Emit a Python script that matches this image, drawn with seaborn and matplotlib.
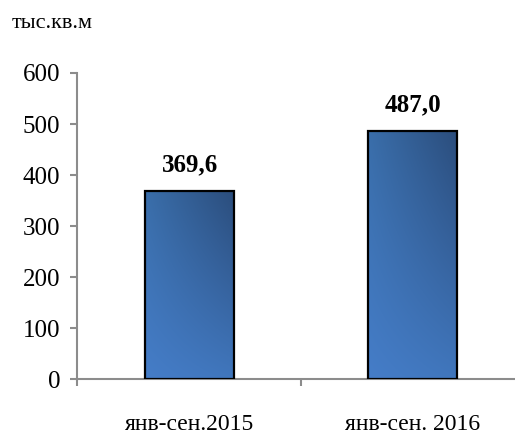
import numpy as np
import pandas as pd
import matplotlib
matplotlib.use("Agg")
import matplotlib.pyplot as plt
from matplotlib.colors import to_rgb
import seaborn as sns

# Data
periods = ["янв-сен.2015", "янв-сен. 2016"]
values = [369.6, 487.0]
value_labels = ["369,6", "487,0"]
y_ticks = [0, 100, 200, 300, 400, 500, 600]
unit_label = "тыс.кв.м"

sns.set_theme(style="white")
plt.rcParams["font.family"] = ["Liberation Serif", "DejaVu Serif"]

df = pd.DataFrame({"period": periods, "value": values})

fig = plt.figure(figsize=(5.15, 4.34), dpi=100)
ax = fig.add_axes([0.1495, 0.1267, 0.8505, 0.7051])

sns.barplot(data=df, x="period", y="value", ax=ax, width=0.40,
            color="#3d70b2", edgecolor="black", linewidth=1.6, zorder=3)

# Bilinear blue shading inside each bar: lighter at the bottom, darker top-right
corners = {
    "bl": np.array(to_rgb("#457dc8")),
    "br": np.array(to_rgb("#4076bc")),
    "tl": np.array(to_rgb("#3a6eaa")),
    "tr": np.array(to_rgb("#2b4d7c")),
}
n = 64
gx, gy = np.meshgrid(np.linspace(0, 1, n), np.linspace(0, 1, n))
gx, gy = gx[..., None], gy[..., None]
shade = ((1 - gx) * (1 - gy) * corners["bl"] + gx * (1 - gy) * corners["br"]
         + (1 - gx) * gy * corners["tl"] + gx * gy * corners["tr"])
for patch in ax.patches:
    x0, y0 = patch.get_x(), patch.get_y()
    w, h = patch.get_width(), patch.get_height()
    im = ax.imshow(shade, origin="lower", aspect="auto",
                   extent=[x0, x0 + w, y0, y0 + h], zorder=3.5,
                   interpolation="bilinear")
    im.set_clip_path(patch)
    patch.set_facecolor("none")
    patch.set_zorder(4)

ax.set_xlim(-0.507, 1.46)
ax.set_ylim(0, 600)
ax.set_yticks(y_ticks)
ax.set_yticklabels([str(t) for t in y_ticks], fontsize=18)
ax.set_xticks([0, 1])
ax.set_xticklabels(periods, fontsize=17)
ax.set_xticks([-0.507, 0.5], minor=True)
ax.set_xlabel("")
ax.set_ylabel("")

for i, (v, lab) in enumerate(zip(values, value_labels)):
    ax.text(i, v + 38, lab, ha="center", va="baseline", fontsize=18,
            fontweight="bold", color="black")

for side in ["top", "right"]:
    ax.spines[side].set_visible(False)
for side in ["left", "bottom"]:
    ax.spines[side].set_color("#8c8c8c")
    ax.spines[side].set_linewidth(1.5)

ax.tick_params(axis="y", which="major", direction="out", length=5, width=1.5,
               color="#8c8c8c", left=True, pad=7, labelcolor="black")
ax.tick_params(axis="x", which="major", length=0, pad=25, labelcolor="black")
ax.tick_params(axis="x", which="minor", direction="out", length=5, width=1.5,
               color="#8c8c8c", bottom=True)

fig.text(0.023, 0.945, unit_label, fontsize=16, ha="left", va="center", color="black")

fig.savefig("out.png", dpi=100)
